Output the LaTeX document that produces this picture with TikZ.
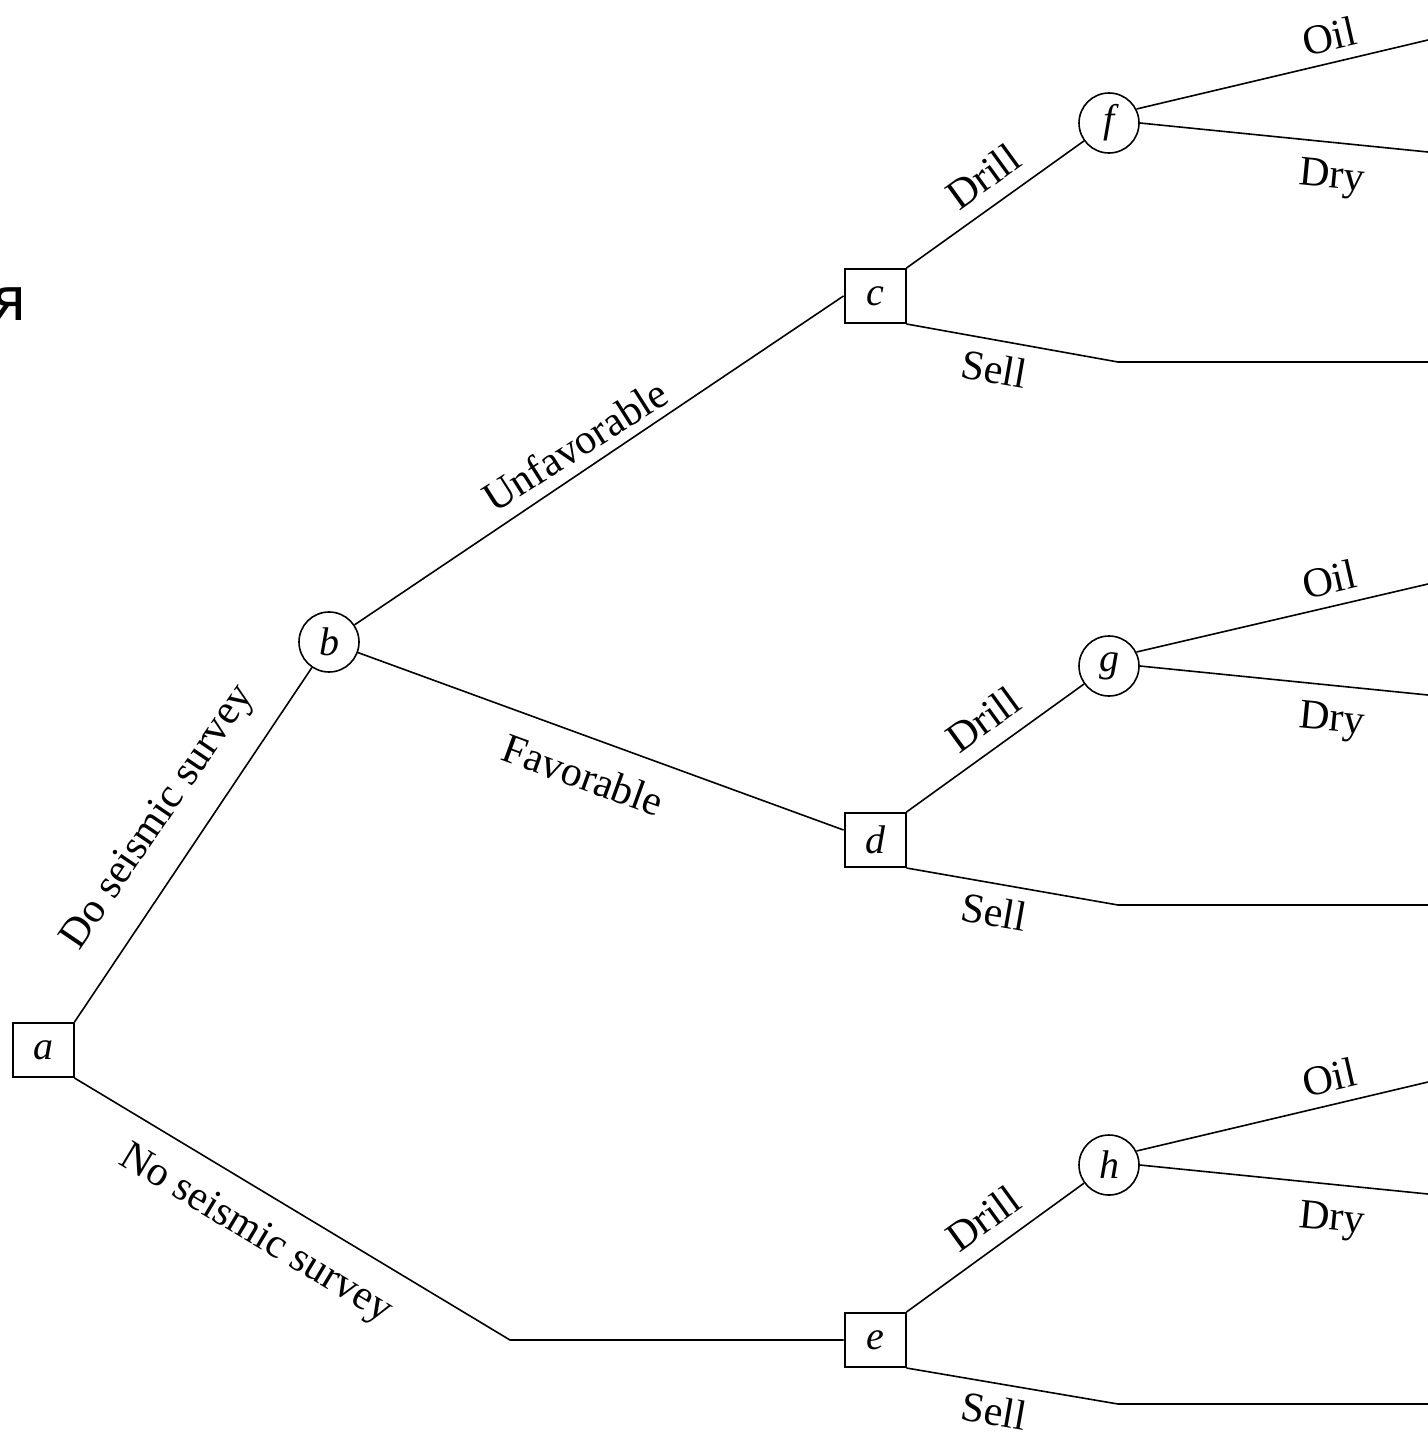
\documentclass[tikz,border=0pt]{standalone}
\usepackage{fontspec}
\setmainfont{Liberation Serif}
\newfontfamily\cyrfont{DejaVu Sans}
\begin{document}
\begin{tikzpicture}[x=0.5pt,y=-0.5pt,line width=0.8pt,
  dec/.style={draw,rectangle,line width=1pt,minimum width=30.5pt,minimum height=27pt,inner sep=0pt,font=\fontsize{20}{24}\selectfont\itshape},
  chance/.style={draw,circle,line width=0.8pt,minimum size=30pt,inner sep=0pt,font=\fontsize{20}{24}\selectfont\itshape},
  lbl/.style={inner sep=0pt,font=\fontsize{21}{25}\selectfont}]
\useasboundingbox (0,0) rectangle (1428,1440);
% stray glyph at left edge
\node[inner sep=0pt,anchor=east,font=\cyrfont\fontsize{30}{36}\selectfont] (glyph) at (27,304) {я};
% decision and chance nodes
\node[dec] (a) at (43,1050) {a};
\node[chance] (b) at (329,642) {b};
\node[dec] (c) at (875,296) {c};
\node[dec] (d) at (875,840) {d};
\node[dec] (e) at (875,1340) {e};
\node[chance] (f) at (1109,123) {f};
\node[chance] (g) at (1109,666) {g};
\node[chance] (h) at (1109,1165) {h};
% bend and end points
\coordinate (ae) at (510,1340);
\coordinate (cs) at (1118,362);
\coordinate (cse) at (1428,362);
\coordinate (ds) at (1118,905);
\coordinate (dse) at (1428,905);
\coordinate (es) at (1118,1404);
\coordinate (ese) at (1428,1404);
\coordinate (fo) at (1428,40);
\coordinate (fd) at (1428,152);
\coordinate (go) at (1428,584);
\coordinate (gd) at (1428,695);
\coordinate (ho) at (1428,1082);
\coordinate (hd) at (1428,1194);
% connectors
\draw (a.north east) -- (b);
\draw (a.south east) -- (ae) -- (e.west);
\draw (b) -- (c.west);
\draw (b) -- ([yshift=5pt]d.west);
\draw (c.north east) -- (f);
\draw (c.south east) -- (cs) -- (cse);
\draw (d.north east) -- (g);
\draw (d.south east) -- (ds) -- (dse);
\draw (e.north east) -- (h);
\draw (e.south east) -- (es) -- (ese);
\draw (f.27) -- (fo);
\draw (f.east) -- (fd);
\draw (g.27) -- (go);
\draw (g.east) -- (gd);
\draw (h.27) -- (ho);
\draw (h.east) -- (hd);
% labels
\node[lbl,rotate=55.8] (l1) at (159,818) {Do seismic survey};
\node[lbl,rotate=-31] (l2) at (255,1235) {No seismic survey};
\node[lbl,rotate=32.4] (l3) at (575,445) {Unfavorable};
\node[lbl,rotate=-20] (l4) at (583,775) {Favorable};
\node[lbl,rotate=36] (l5) at (983,176) {Drill};
\node[lbl,rotate=-10] (l6) at (994,369) {Sell};
\node[lbl,rotate=13] (l7) at (1329,36) {Oil};
\node[lbl,rotate=-5.6] (l8) at (1332,179) {Dry};
\node[lbl,rotate=36] (l9) at (983,719) {Drill};
\node[lbl,rotate=-10] (l10) at (994,912) {Sell};
\node[lbl,rotate=13] (l11) at (1329,579) {Oil};
\node[lbl,rotate=-5.6] (l12) at (1332,722) {Dry};
\node[lbl,rotate=36] (l13) at (983,1218) {Drill};
\node[lbl,rotate=-10] (l14) at (994,1411) {Sell};
\node[lbl,rotate=13] (l15) at (1329,1077) {Oil};
\node[lbl,rotate=-5.6] (l16) at (1332,1221) {Dry};
\end{tikzpicture}
\end{document}
